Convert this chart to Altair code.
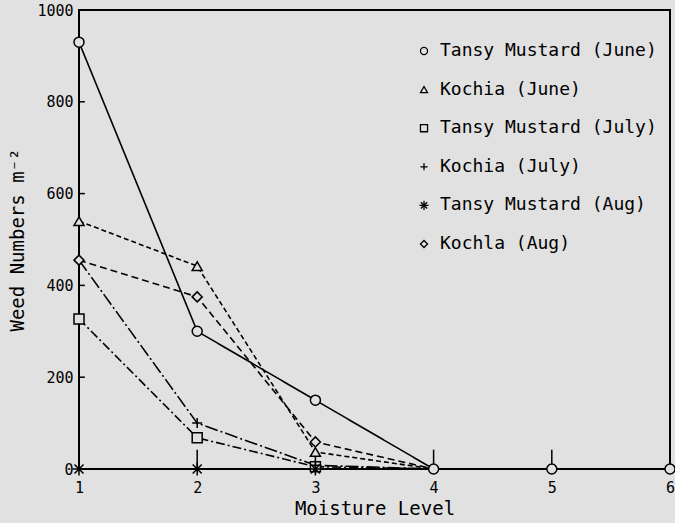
import altair as alt
import pandas as pd

# Moisture levels and weed counts (plants per m²) for each species / month
moisture = [1, 2, 3, 4, 5, 6]
series_names = [
    "Tansy Mustard (June)",
    "Kochia (June)",
    "Tansy Mustard (July)",
    "Kochia (July)",
    "Tansy Mustard (Aug)",
    "Kochla (Aug)",
]
tm_june = [930, 300, 150, 0, 0, 0]
kochia_june = [540, 442, 37, 0, 0, 0]
tm_july = [327, 68, 5, 0, 0, 0]
kochia_july = [455, 100, 8, 0, 0, 0]
tm_aug = [0, 0, 0, 0, 0, 0]
kochia_aug = [455, 375, 59, 0, 0, 0]

y_ticks = [0, 200, 400, 600, 800, 1000]

BG = "#e1e1e1"
FONT = "DejaVu Sans Mono"

all_values = [tm_june, kochia_june, tm_july, kochia_july, tm_aug, kochia_aug]
rows = []
for i, (name, vals) in enumerate(zip(series_names, all_values)):
    for xv, yv in zip(moisture, vals):
        rows.append({"style": i, "label": name, "x": xv, "y": yv})
df = pd.DataFrame(rows)

dashes = [[1, 0], [5, 3], [9, 3, 2, 3], [13, 3, 2, 3], [1, 0], [7, 4]]
plus_path = "M-1,0L1,0M0,-1L0,1"
star_path = "M-1.3,0L1.3,0M0,-1.3L0,1.3M-0.9,-0.9L0.9,0.9M-0.9,0.9L0.9,-0.9"
shapes = ["circle", "triangle-up", "square", plus_path, star_path, "diamond"]

x_scale = alt.Scale(domain=[1, 6], nice=False, zero=False)
y_scale = alt.Scale(domain=[0, 1000], nice=False)
x_axis = alt.Axis(values=moisture, title="Moisture Level", labelPadding=11,
                  titlePadding=4, format="d", labelFlush=False)
y_axis = alt.Axis(values=y_ticks, title="Weed Numbers m⁻²", labelPadding=6,
                  titlePadding=9, format="d", labelFlush=False)


def xe(field="x"):
    return alt.X(f"{field}:Q", scale=x_scale, axis=x_axis)


def ye(field="y"):
    return alt.Y(f"{field}:Q", scale=y_scale, axis=y_axis)


base = alt.Chart(df)

lines = base.mark_line(color="black", strokeWidth=1.6).encode(
    x=xe(),
    y=ye(),
    strokeDash=alt.StrokeDash(
        "style:N",
        scale=alt.Scale(domain=list(range(len(series_names))), range=dashes),
        legend=None,
    ),
)

points = base.transform_filter(
    "datum.x <= 3 || datum.label == 'Tansy Mustard (June)'"
).mark_point(
    filled=True, fill=BG, stroke="black", strokeWidth=1.5, size=100, opacity=1
).encode(
    x=xe(),
    y=ye(),
    shape=alt.Shape(
        "label:N",
        scale=alt.Scale(domain=series_names, range=shapes),
        legend=alt.Legend(
            title=None,
            orient="none",
            legendX=336,
            legendY=32,
            labelFont=FONT,
            labelFontSize=18,
            labelColor="black",
            labelOffset=7,
            labelLimit=400,
            symbolSize=50,
            symbolStrokeWidth=1.3,
            rowPadding=20.6,
        ),
    ),
)

# inward tick marks along the bottom and left axes
xtick_df = pd.DataFrame({"x": [2, 3, 4, 5], "y": [0] * 4, "y2": [42] * 4})
xticks = alt.Chart(xtick_df).mark_rule(color="black", strokeWidth=1.5).encode(
    x=xe(), y=ye(), y2="y2:Q"
)
ytick_df = pd.DataFrame({"x": [1] * 4, "x2": [1.05] * 4, "y": [200, 400, 600, 800]})
yticks = alt.Chart(ytick_df).mark_rule(color="black", strokeWidth=1.5).encode(
    x=xe(), x2="x2:Q", y=ye()
)

chart = (
    alt.layer(xticks, yticks, lines, points)
    .properties(
        width=591,
        height=459,
        autosize="none",
        padding={"left": 79, "top": 10, "right": 5, "bottom": 54},
        background=BG,
    )
    .configure_view(stroke="black", strokeWidth=2)
    .configure_axis(
        domain=False,
        ticks=False,
        grid=False,
        labelFont=FONT,
        labelFontSize=15,
        labelColor="black",
        titleFont=FONT,
        titleFontSize=19,
        titleFontWeight="normal",
        titleColor="black",
    )
)

chart.save("out.html", embed_options={"renderer": "svg", "actions": False})
